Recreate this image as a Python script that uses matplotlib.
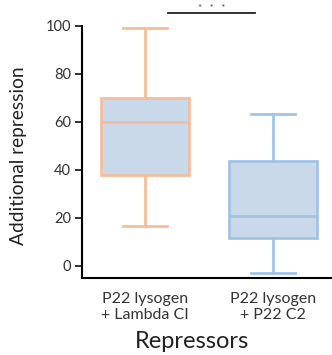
import matplotlib
matplotlib.use("Agg")
import matplotlib.pyplot as plt

plt.rcParams['font.family'] = ['Lato', 'DejaVu Sans']

# box-and-whisker summaries per repressor
groups = ['P22 lysogen\n+ Lambda CI', 'P22 lysogen\n+ P22 C2']
whisker_low = [16.7, -3.0]
q1 = [37.9, 11.8]
median = [60.0, 21.0]
q3 = [70.0, 43.9]
whisker_high = [99.2, 63.3]
edge_colors = ['#f6bc9c', '#a3c3e6']
fill_color = '#c9d9e9'

yticks = [0, 20, 40, 60, 80, 100]
sig_label = '*   *   *'
sig_y = 105.5

stats = []
for i, g in enumerate(groups):
    stats.append(dict(label=g, whislo=whisker_low[i], q1=q1[i], med=median[i],
                      q3=q3[i], whishi=whisker_high[i], fliers=[]))

fig = plt.figure(figsize=(3.32, 3.55), dpi=100)
ax = fig.add_axes([0.247, 0.217, 0.753, 0.710])

for i, s in enumerate(stats):
    c = edge_colors[i]
    ax.bxp([s], positions=[i + 1], widths=0.69, patch_artist=True,
           showfliers=False,
           boxprops=dict(facecolor=fill_color, edgecolor=c, linewidth=2),
           medianprops=dict(color=c, linewidth=2),
           whiskerprops=dict(color=c, linewidth=2),
           capprops=dict(color=c, linewidth=2),
           capwidths=0.34)

ax.set_xlim(0.508, 2.46)
ax.set_ylim(-5, 100)
ax.set_xticks([1, 2])
ax.set_xticklabels(groups, fontsize=11.5, color='#333333')
ax.set_yticks(yticks)
ax.set_yticklabels([str(v) for v in yticks], fontsize=10.5, color='#333333')
ax.tick_params(axis='x', length=0, pad=10)
ax.tick_params(axis='y', length=5, width=1.3, pad=3, colors='#222222', labelcolor='#333333')

for side in ['top', 'right']:
    ax.spines[side].set_visible(False)
ax.spines['left'].set_linewidth(1.5)
ax.spines['bottom'].set_linewidth(1.5)
ax.spines['left'].set_bounds(-5, 100)

ax.set_ylabel('Additional repression', fontsize=13.8, color='#222222')
ax.yaxis.set_label_coords(-0.222, 0.485)
ax.set_xlabel('Repressors', fontsize=17, color='#222222')
ax.xaxis.set_label_coords(0.44, -0.21)

# significance bracket between the two groups
ax.plot([1.18, 1.86], [sig_y, sig_y], color='#222222', linewidth=1.3, clip_on=False)
ax.text(1.52, sig_y + 1.8, sig_label, ha='center', va='center', fontsize=7,
        color='#444444', clip_on=False)

fig.savefig('out.png', dpi=100)
